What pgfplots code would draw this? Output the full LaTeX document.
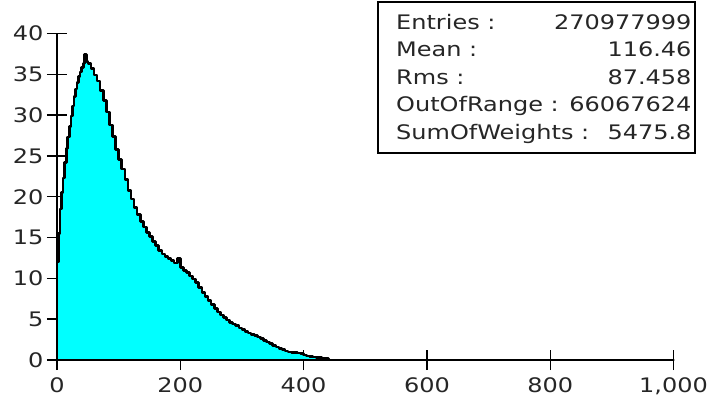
\documentclass[border=0pt]{standalone}
\usepackage{pgfplots}
\pgfplotsset{compat=1.18}
\usepackage{fontspec}
\setmainfont{DejaVu Sans}[FakeStretch=1.2]
\definecolor{histcyan}{RGB}{0,255,255}
\begin{document}
\begin{tikzpicture}
\useasboundingbox (-57bp,-39bp) rectangle (654bp,360bp);
\begin{axis}[
  at={(0,0)}, anchor=south west,
  scale only axis, width=616.5bp, height=326.5bp,
  xmin=0, xmax=1000, ymin=0, ymax=40,
  axis x line=bottom, axis y line=left,
  axis line style={-, line width=1.4bp, black},
  xtick={0,200,400,600,800,1000},
  ytick={0,5,10,15,20,25,30,35,40},
  tick align=center,
  major tick length=20bp,
  tick style={line width=1.4bp, black},
  /pgf/number format/assume math mode=true,
  ticklabel style={font=\fontsize{20bp}{24bp}\selectfont, text=black!85},
  xticklabel style={yshift=-4bp},
  clip=false,
]
\addplot[const plot, fill=histcyan, draw=black, line width=2.6bp, line join=round] coordinates {
(0,12.0) (2.5,15.5) (5,18.5) (7.5,20.5) (10,22.3) (12.5,24.2) (15,25.9) (17.5,27.3)
(20,28.6) (22.5,29.9) (25,31.1) (27.5,32.3) (30,33.2) (32.5,34.0) (35,34.7) (37.5,35.3)
(40,35.8) (42.5,36.3) (45,37.4) (47.5,36.6) (50,36.3) (55,35.7) (60,34.9) (65,34.2) (70,33.0) (75,31.8)
(80,30.4) (85,28.8) (90,27.4) (95,25.8) (100,24.6) (105,23.4) (110,22.1) (115,20.8)
(120,19.7) (125,18.7) (130,17.8) (135,17.0) (140,16.3) (145,15.6) (150,15.1) (155,14.5)
(160,14.0) (165,13.4) (170,13.0) (175,12.7) (180,12.4) (185,12.2) (190,11.9) (195,12.4)
(200,11.3) (205,11.0) (210,10.7) (215,10.3) (220,9.9) (225,9.5) (230,8.9) (235,8.3)
(240,7.8) (245,7.3) (250,6.8) (255,6.3) (260,5.9) (265,5.5) (270,5.2) (275,4.9)
(280,4.6) (285,4.4) (290,4.2) (295,3.9) (300,3.7) (305,3.5) (310,3.3) (315,3.1)
(320,3.0) (325,2.8) (330,2.6) (335,2.4) (340,2.2) (345,2.0) (350,1.8) (355,1.6)
(360,1.4) (365,1.3) (370,1.1) (375,1.0) (380,0.95) (385,0.9) (390,0.85) (395,0.8)
(400,0.6) (405,0.5) (410,0.4) (415,0.35) (420,0.3) (425,0.3) (430,0.25) (435,0.2)
(440,0) (1000,0)
} \closedcycle;
\end{axis}
\draw[line width=1.3bp, black, fill=white] (321bp,207bp) rectangle (638bp,358bp);
\begin{scope}[every node/.style={font=\fontsize{20bp}{24bp}\selectfont, text=black!85, inner sep=0pt}]
\node[anchor=base west] at (339bp,330.7bp) {Entries :};
\node[anchor=base east] at (634.7bp,330.7bp) {270977999};
\node[anchor=base west] at (339bp,303.2bp) {Mean :};
\node[anchor=base east] at (634.7bp,303.2bp) {116.46};
\node[anchor=base west] at (339bp,275.7bp) {Rms :};
\node[anchor=base east] at (634.7bp,275.7bp) {87.458};
\node[anchor=base west] at (339bp,248.2bp) {OutOfRange :};
\node[anchor=base east] at (634.7bp,248.2bp) {66067624};
\node[anchor=base west] at (339bp,220.7bp) {SumOfWeights :};
\node[anchor=base east] at (634.7bp,220.7bp) {5475.8};
\end{scope}
\end{tikzpicture}
\end{document}
